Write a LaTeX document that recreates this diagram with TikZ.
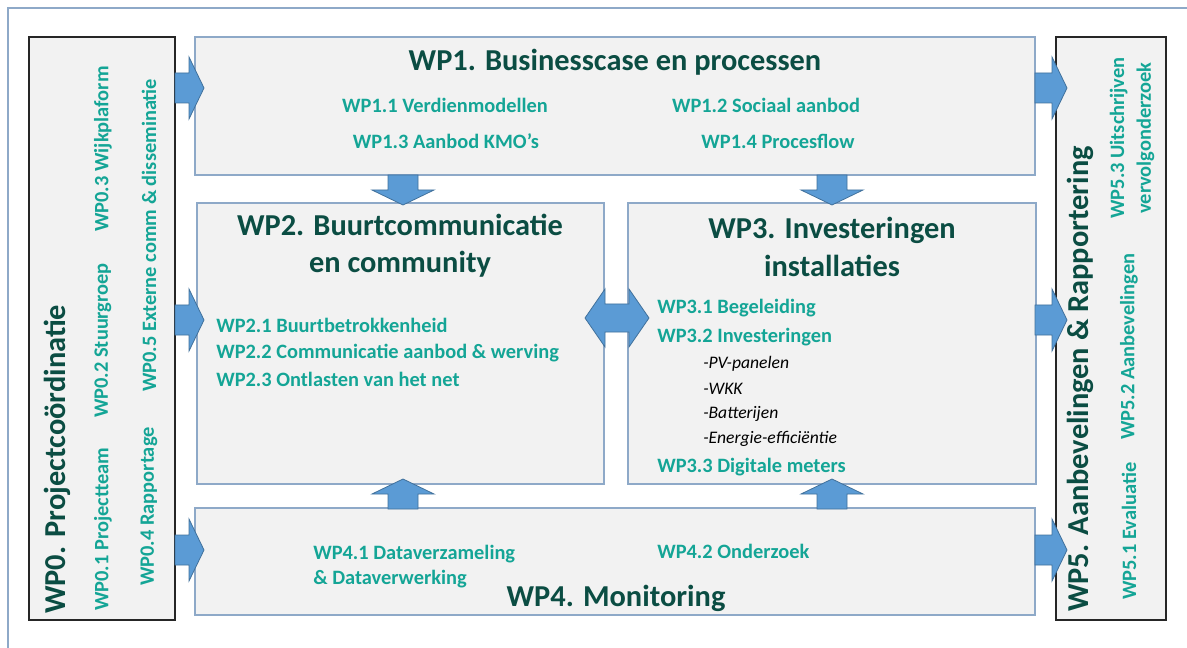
\documentclass[tikz,border=0pt]{standalone}
\usepackage{fontspec}
\setmainfont{Carlito}
\definecolor{teal1}{HTML}{14A596}
\definecolor{dark1}{HTML}{0B4D43}
\definecolor{boxfill}{HTML}{F2F2F2}
\definecolor{boxline}{HTML}{8EA9C8}
\definecolor{arrfill}{HTML}{5B9BD5}
\definecolor{arrline}{HTML}{41719C}
\tikzset{
  wpbox/.style={draw=boxline, line width=1pt, fill=boxfill},
  sidebox/.style={draw=black!85, line width=1pt, fill=boxfill},
  ttl/.style={text=dark1, font=\bfseries\fontsize{22.8}{27}\selectfont, inner sep=0pt, align=center},
  itm/.style={text=teal1, font=\bfseries\fontsize{15.3}{20}\selectfont, inner sep=0pt},
  sub/.style={text=black, font=\itshape\fontsize{13.2}{15}\selectfont, inner sep=0pt, anchor=west},
  blk/.style={fill=arrfill, draw=arrline, line width=0.6pt, line join=miter},
}
\newcommand{\harrow}[3]{% tail x, tip x, center y
  \path[blk] (#1,#3-15) -- ({#2-15},#3-15) -- ({#2-15},#3-31) -- (#2,#3) -- ({#2-15},#3+31) -- ({#2-15},#3+15) -- (#1,#3+15) -- cycle;}
\newcommand{\varrow}[3]{% center x, tail y, tip y
  \path[blk] (#1-15,#2) -- (#1+15,#2) -- (#1+15,{#2+0.5*(#3-#2)}) -- (#1+31,{#2+0.5*(#3-#2)}) -- (#1,#3) -- (#1-31,{#2+0.5*(#3-#2)}) -- (#1-15,{#2+0.5*(#3-#2)}) -- cycle;}
\begin{document}
\begin{tikzpicture}[x=0.75pt,y=-0.75pt]
\useasboundingbox (0,0) rectangle (1187,648);
% outer frame
\draw[boxline, line width=0.8pt] (8,660) -- (8,8) -- (1200,8);
% side boxes
\path[sidebox] (29,37) rectangle (175,620);
\path[sidebox] (1056,37) rectangle (1166,620);
% main boxes
\path[wpbox] (195,37) rectangle (1035,175);
\path[wpbox] (197,203) rectangle (604,484);
\path[wpbox] (628,203) rectangle (1036,484);
\path[wpbox] (195,508) rectangle (1035,615);
% arrows left
\harrow{175}{204}{88}
\harrow{175}{204}{320}
\harrow{175}{204}{550}
% arrows right
\harrow{1035}{1067}{88}
\harrow{1035}{1067}{320}
\harrow{1035}{1067}{550}
% down arrows
\varrow{403}{175}{205}
\varrow{832}{175}{205}
% up arrows
\varrow{403}{509}{479}
\varrow{832}{509}{479}
% double arrow
\path[blk] (585,318) -- (605,289) -- (605,304) -- (629,304) -- (629,289) -- (649,318) -- (629,347) -- (629,332) -- (605,332) -- (605,347) -- cycle;
% WP1
\node[ttl] (t1) at (615,62) {WP1. Businesscase en processen};
\node[itm] (i11) at (445,105) {WP1.1 Verdienmodellen};
\node[itm] (i12) at (766,105) {WP1.2 Sociaal aanbod};
\node[itm] (i13) at (446,141) {WP1.3 Aanbod KMO’s};
\node[itm] (i14) at (778,141) {WP1.4 Procesflow};
% WP2
\node[ttl] (t2) at (400,246) {WP2. Buurtcommunicatie\\[1pt]en community};
\node[itm, anchor=west] (i21) at (216,325) {WP2.1 Buurtbetrokkenheid};
\node[itm, anchor=west] (i22) at (216,353) {WP2.2 Communicatie aanbod \& werving};
\node[itm, anchor=west] (i23) at (216,379) {WP2.3 Ontlasten van het net};
% WP3
\node[ttl] (t3) at (832,247) {WP3. Investeringen\\[1pt]installaties};
\node[itm, anchor=west] (i31) at (657,308) {WP3.1 Begeleiding};
\node[itm, anchor=west] (i32) at (657,337) {WP3.2 Investeringen};
\node[sub] (s1) at (703,364) {-PV-panelen};
\node[sub] (s2) at (703,389) {-WKK};
\node[sub] (s3) at (703,414) {-Batterijen};
\node[sub] (s4) at (703,439) {-Energie-efficiëntie};
\node[itm, anchor=west] (i33) at (657,467) {WP3.3 Digitale meters};
% WP4
\node[itm, anchor=west] (i41) at (313,554) {WP4.1 Dataverzameling};
\node[itm, anchor=west] (i41b) at (313,579) {\& Dataverwerking};
\node[itm, anchor=west] (i42) at (657,551) {WP4.2 Onderzoek};
\node[ttl] (t4) at (616,598) {WP4. Monitoring};
% WP0
\node[ttl, rotate=90, anchor=west] (t0) at (57,614) {WP0. Projectcoördinatie};
\node[itm, rotate=90, anchor=west] (i01) at (103,611) {WP0.1 Projectteam};
\node[itm, rotate=90, anchor=west] (i02) at (103,418) {WP0.2 Stuurgroep};
\node[itm, rotate=90, anchor=west] (i03) at (103,232) {WP0.3 Wijkplaform};
\node[itm, rotate=90, anchor=west] (i04) at (149,586) {WP0.4 Rapportage};
\node[itm, rotate=90, anchor=west] (i05) at (149,392) {WP0.5 Externe comm \& disseminatie};
% WP5
\node[ttl, rotate=90, anchor=west] (t5) at (1080,612) {WP5. Aanbevelingen \& Rapportering};
\node[itm, rotate=90, anchor=west] (i51) at (1129,600) {WP5.1 Evaluatie};
\node[itm, rotate=90, anchor=west] (i52) at (1129,440) {WP5.2 Aanbevelingen};
\node[itm, rotate=90, align=center] (i53) at (1132,138) {WP5.3 Uitschrijven\\vervolgonderzoek};
\end{tikzpicture}
\end{document}
